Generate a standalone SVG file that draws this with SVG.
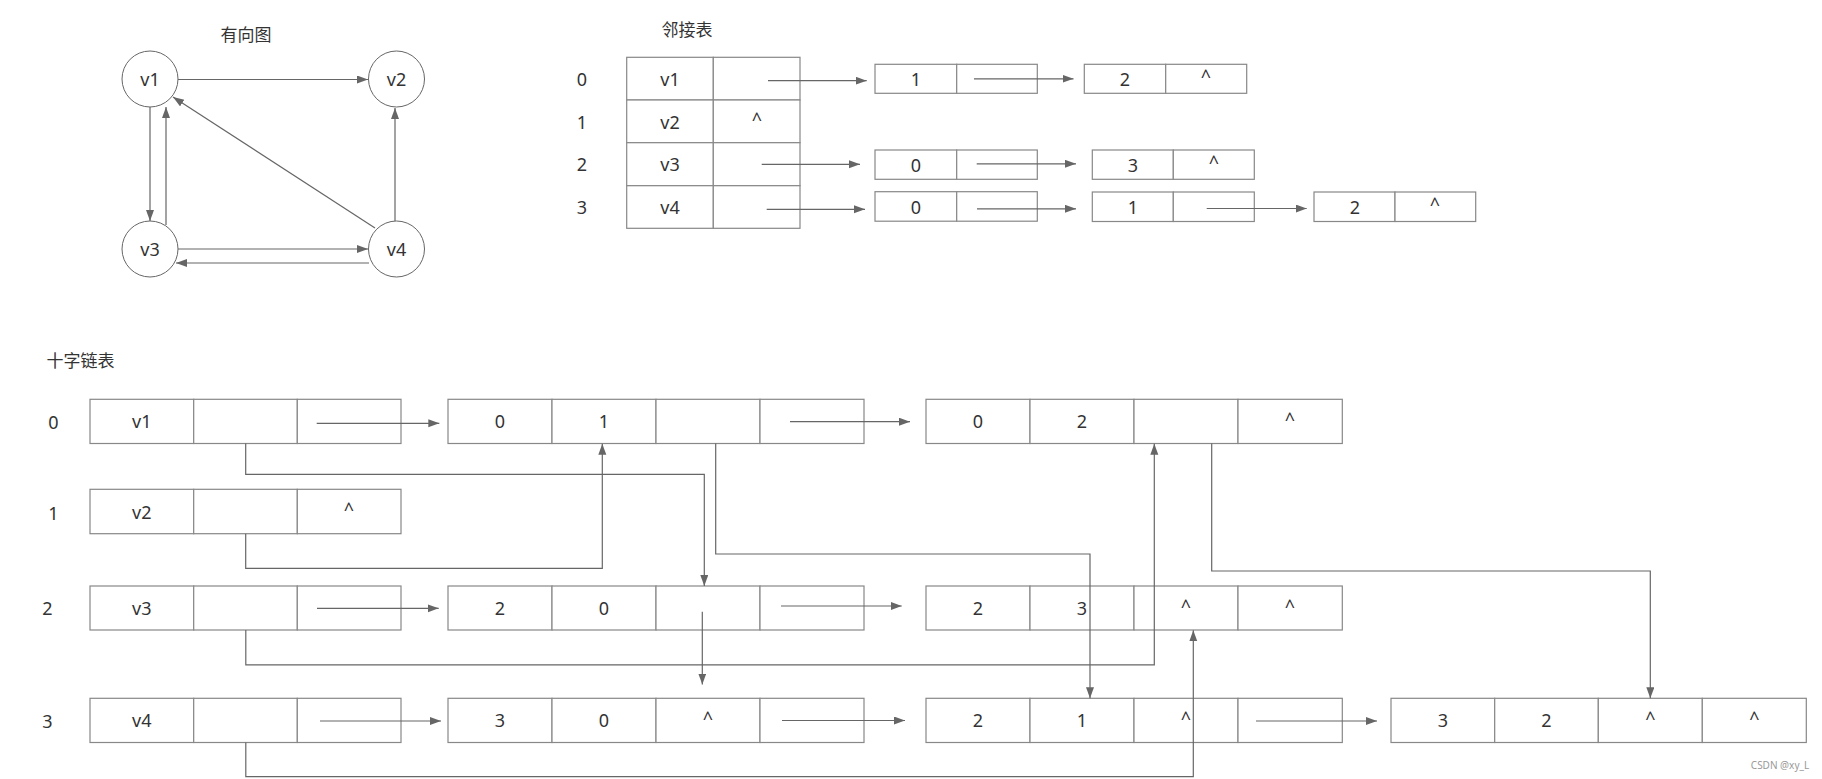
<svg xmlns="http://www.w3.org/2000/svg" width="1822" height="779" viewBox="0 0 1822 779">
<style>
text{font-family:"Noto Sans","Noto Sans CJK SC",sans-serif;fill:#333;font-size:18px;text-anchor:middle;dominant-baseline:central}
.t{font-size:17px}
.c{fill:#fff;stroke:#666;stroke-width:1}
.r{fill:#fff;stroke:#888;stroke-width:1.2}
.l{fill:none;stroke:#666;stroke-width:1.2}
.a{fill:none;stroke:#666;stroke-width:1.2;marker-end:url(#ah)}
.wm{font-size:10px;fill:#999}
</style>
<defs>
<marker id="ah" markerUnits="userSpaceOnUse" markerWidth="12" markerHeight="10" refX="11" refY="4" orient="auto">
<path d="M0,0 L11,4 L0,8 Z" fill="#666"/>
</marker>
</defs>
<rect width="1822" height="779" fill="#fff"/>

<!-- directed graph -->
<text x="246" y="34" class="t">有向图</text>
<g id="v1"><circle class="c" cx="150" cy="79" r="28"/><text x="150" y="79">v1</text></g>
<g id="v2"><circle class="c" cx="396.5" cy="79" r="28"/><text x="396.5" y="79">v2</text></g>
<g id="v3"><circle class="c" cx="150" cy="249" r="28"/><text x="150" y="249">v3</text></g>
<g id="v4"><circle class="c" cx="396.5" cy="249" r="28"/><text x="396.5" y="249">v4</text></g>
<g id="graph-edges">
<line class="a" x1="178" y1="79.5" x2="368" y2="79.5"/>
<line class="a" x1="150" y1="107" x2="150" y2="221"/>
<line class="a" x1="166" y1="225" x2="166" y2="107"/>
<line class="a" x1="375" y1="228" x2="173" y2="97"/>
<line class="a" x1="395" y1="221" x2="395" y2="108"/>
<line class="a" x1="178" y1="249" x2="368" y2="249"/>
<line class="a" x1="369" y1="263" x2="176" y2="263"/>
</g>

<!-- adjacency list -->
<text x="687" y="29" class="t">邻接表</text>
<text x="582" y="79">0</text>
<text x="582" y="121.5">1</text>
<text x="582" y="164">2</text>
<text x="582" y="207">3</text>
<g id="adj-table">
<rect class="r" x="626.7" y="57.3" width="86.6" height="42.7"/><rect class="r" x="713.3" y="57.3" width="86.7" height="42.7"/>
<rect class="r" x="626.7" y="100" width="86.6" height="42.7"/><rect class="r" x="713.3" y="100" width="86.7" height="42.7"/>
<rect class="r" x="626.7" y="142.7" width="86.6" height="43"/><rect class="r" x="713.3" y="142.7" width="86.7" height="43"/>
<rect class="r" x="626.7" y="185.7" width="86.6" height="42.6"/><rect class="r" x="713.3" y="185.7" width="86.7" height="42.6"/>
<text x="670" y="79">v1</text><text x="670" y="121.5">v2</text><text x="670" y="164">v3</text><text x="670" y="207">v4</text>
<text x="757" y="119">^</text>
</g>
<g id="adj-0-1"><rect class="r" x="875" y="64.3" width="81.7" height="29"/><rect class="r" x="956.7" y="64.3" width="80.6" height="29"/><text x="916" y="78.8">1</text></g>
<g id="adj-0-2"><rect class="r" x="1084.3" y="64.3" width="81.4" height="29"/><rect class="r" x="1165.7" y="64.3" width="81" height="29"/><text x="1125" y="78.8">2</text><text x="1206" y="76">^</text></g>
<g id="adj-2-0"><rect class="r" x="875" y="150" width="81.7" height="29.3"/><rect class="r" x="956.7" y="150" width="80.6" height="29.3"/><text x="916" y="164.6">0</text></g>
<g id="adj-2-3"><rect class="r" x="1092.3" y="150" width="81" height="29.3"/><rect class="r" x="1173.3" y="150" width="81" height="29.3"/><text x="1133" y="164.6">3</text><text x="1214" y="162">^</text></g>
<g id="adj-3-0"><rect class="r" x="875" y="191.7" width="81.7" height="29.5"/><rect class="r" x="956.7" y="191.7" width="80.6" height="29.5"/><text x="916" y="206.5">0</text></g>
<g id="adj-3-1"><rect class="r" x="1092.3" y="192" width="81" height="29.5"/><rect class="r" x="1173.3" y="192" width="81" height="29.5"/><text x="1133" y="206.8">1</text></g>
<g id="adj-3-2"><rect class="r" x="1314" y="192" width="81" height="29.5"/><rect class="r" x="1395" y="192" width="80.7" height="29.5"/><text x="1355" y="206.8">2</text><text x="1435" y="204">^</text></g>
<g id="adj-connectors">
<line class="a" x1="768" y1="80.7" x2="866.7" y2="80.7"/>
<line class="a" x1="974" y1="78.8" x2="1073.5" y2="78.8"/>
<line class="a" x1="761.7" y1="164.3" x2="860" y2="164.3"/>
<line class="a" x1="976.7" y1="163.8" x2="1076" y2="163.8"/>
<line class="a" x1="766.7" y1="209.3" x2="865" y2="209.3"/>
<line class="a" x1="977" y1="208.8" x2="1076" y2="208.8"/>
<line class="a" x1="1206.7" y1="208.5" x2="1306.7" y2="208.5"/>
</g>

<!-- orthogonal list -->
<text x="80.5" y="360" class="t">十字链表</text>
<text x="53.5" y="421.5">0</text>
<text x="53.5" y="513">1</text>
<text x="47.5" y="608">2</text>
<text x="47.5" y="721">3</text>

<g id="h0"><rect class="r" x="90" y="399.3" width="103.7" height="44.2"/><rect class="r" x="193.7" y="399.3" width="103.6" height="44.2"/><rect class="r" x="297.3" y="399.3" width="103.7" height="44.2"/><text x="141.8" y="421.4">v1</text></g>
<g id="h1"><rect class="r" x="90" y="489.3" width="103.7" height="44.4"/><rect class="r" x="193.7" y="489.3" width="103.6" height="44.4"/><rect class="r" x="297.3" y="489.3" width="103.7" height="44.4"/><text x="141.8" y="511.5">v2</text><text x="349" y="509">^</text></g>
<g id="h2"><rect class="r" x="90" y="586" width="103.7" height="44"/><rect class="r" x="193.7" y="586" width="103.6" height="44"/><rect class="r" x="297.3" y="586" width="103.7" height="44"/><text x="141.8" y="608">v3</text></g>
<g id="h3"><rect class="r" x="90" y="698.3" width="103.7" height="44.2"/><rect class="r" x="193.7" y="698.3" width="103.6" height="44.2"/><rect class="r" x="297.3" y="698.3" width="103.7" height="44.2"/><text x="141.8" y="720.4">v4</text></g>

<g id="e01"><rect class="r" x="448" y="399.3" width="104" height="44.2"/><rect class="r" x="552" y="399.3" width="104" height="44.2"/><rect class="r" x="656" y="399.3" width="104" height="44.2"/><rect class="r" x="760" y="399.3" width="104" height="44.2"/><text x="500" y="421.4">0</text><text x="604" y="421.4">1</text></g>
<g id="e02"><rect class="r" x="926" y="399.3" width="104" height="44.2"/><rect class="r" x="1030" y="399.3" width="104" height="44.2"/><rect class="r" x="1134" y="399.3" width="104" height="44.2"/><rect class="r" x="1238" y="399.3" width="104.3" height="44.2"/><text x="978" y="421.4">0</text><text x="1082" y="421.4">2</text><text x="1290" y="419">^</text></g>
<g id="e20"><rect class="r" x="448" y="586" width="104" height="44"/><rect class="r" x="552" y="586" width="104" height="44"/><rect class="r" x="656" y="586" width="104" height="44"/><rect class="r" x="760" y="586" width="104" height="44"/><text x="500" y="608">2</text><text x="604" y="608">0</text></g>
<g id="e23"><rect class="r" x="926" y="586" width="104" height="44"/><rect class="r" x="1030" y="586" width="104" height="44"/><rect class="r" x="1134" y="586" width="104" height="44"/><rect class="r" x="1238" y="586" width="104.3" height="44"/><text x="978" y="608">2</text><text x="1082" y="608">3</text><text x="1186" y="605.5">^</text><text x="1290" y="605.5">^</text></g>
<g id="e30"><rect class="r" x="448" y="698.3" width="104" height="44.2"/><rect class="r" x="552" y="698.3" width="104" height="44.2"/><rect class="r" x="656" y="698.3" width="104" height="44.2"/><rect class="r" x="760" y="698.3" width="104" height="44.2"/><text x="500" y="720.4">3</text><text x="604" y="720.4">0</text><text x="708" y="718">^</text></g>
<g id="e31"><rect class="r" x="926" y="698.3" width="104" height="44.2"/><rect class="r" x="1030" y="698.3" width="104" height="44.2"/><rect class="r" x="1134" y="698.3" width="104" height="44.2"/><rect class="r" x="1238" y="698.3" width="104.3" height="44.2"/><text x="978" y="720.4">2</text><text x="1082" y="720.4">1</text><text x="1186" y="718">^</text></g>
<g id="e32"><rect class="r" x="1391" y="698.3" width="103.7" height="44.2"/><rect class="r" x="1494.7" y="698.3" width="103.6" height="44.2"/><rect class="r" x="1598.3" y="698.3" width="104" height="44.2"/><rect class="r" x="1702.3" y="698.3" width="104" height="44.2"/><text x="1443" y="720.4">3</text><text x="1546.5" y="720.4">2</text><text x="1650.3" y="718">^</text><text x="1754.3" y="718">^</text></g>

<g id="cross-connectors">
<line class="a" x1="316.7" y1="423.3" x2="439.3" y2="423.3"/>
<line class="a" x1="790" y1="421.7" x2="910" y2="421.7"/>
<line class="a" x1="317" y1="608.3" x2="438.7" y2="608.3"/>
<line class="a" x1="781" y1="606" x2="901.7" y2="606"/>
<line class="a" x1="320" y1="721" x2="441" y2="721"/>
<line class="a" x1="782" y1="720.5" x2="905" y2="720.5"/>
<line class="a" x1="1256" y1="721" x2="1377" y2="721"/>
<path class="a" d="M245.7,443.5 V474.3 H704.3 V586"/>
<path class="a" d="M245.7,533.7 V568.3 H602.3 V443.8"/>
<path class="a" d="M715.7,443.5 V554 H1090 V698.3"/>
<path class="a" d="M1211.7,443.5 V571 H1650.3 V698.3"/>
<path class="a" d="M245.8,630 V664.8 H1154.3 V443.8"/>
<line class="a" x1="702.3" y1="611.7" x2="702.3" y2="684.5"/>
<path class="a" d="M245.8,742.5 V776.7 H1193.3 V630.3"/>
</g>

<text x="1780" y="765" class="wm">CSDN @xy_L</text>
</svg>
